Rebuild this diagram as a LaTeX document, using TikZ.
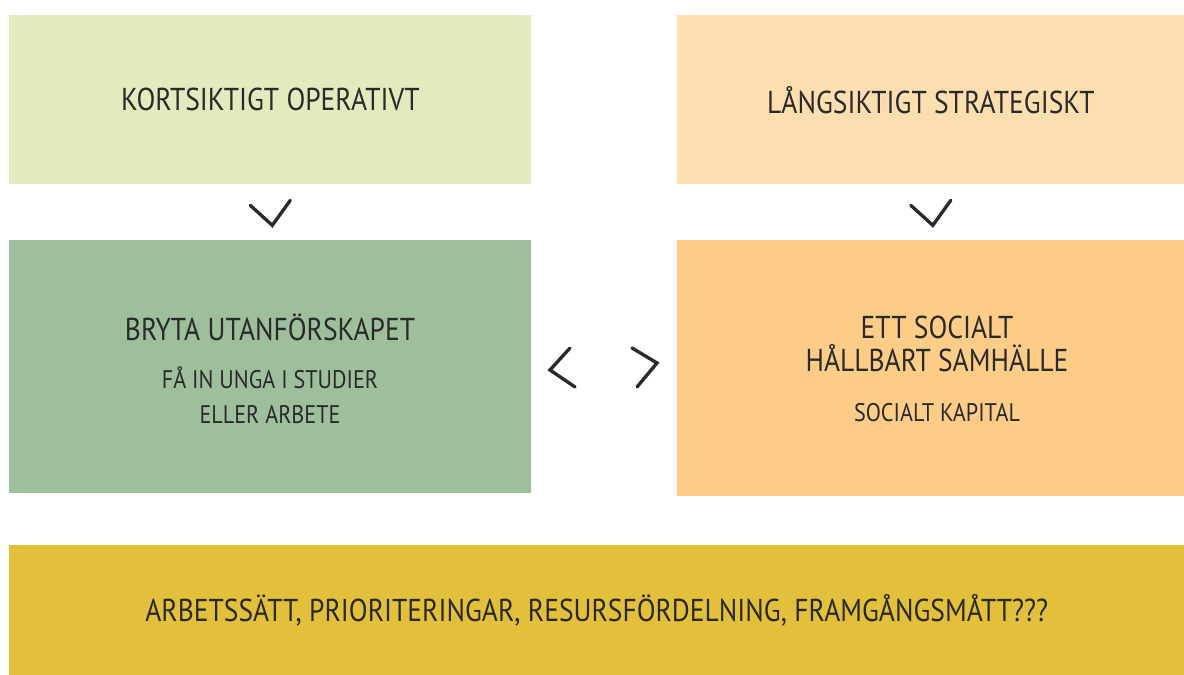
\documentclass[tikz,border=0pt]{standalone}
\usepackage{fontspec}
\setmainfont{PT Sans}[FakeStretch=0.87]
\usetikzlibrary{positioning,calc}

\definecolor{kortgreen}{HTML}{E2EBBD}
\definecolor{langpeach}{HTML}{FDDFAF}
\definecolor{brytgreen}{HTML}{9DBF9B}
\definecolor{samorange}{HTML}{FDCD88}
\definecolor{arbyellow}{HTML}{E3C03C}
\definecolor{inkgray}{HTML}{2A2A2A}

\tikzset{
  box/.style={rectangle, inner sep=0pt, anchor=north west, align=center,
    text=inkgray, font=\fontsize{18}{24}\selectfont},
  chev/.style={draw=inkgray, line width=1.9pt, line cap=round, line join=miter}
}
\newcommand{\subtxt}{\fontsize{14.5}{20}\selectfont}

\begin{document}
\begin{tikzpicture}[x=0.02cm, y=-0.02cm]
\useasboundingbox (0,0) rectangle (1184,675);

% Top row
\node[box, fill=kortgreen, minimum width=10.44cm, minimum height=3.38cm] (kort) at (9,15) {KORTSIKTIGT OPERATIVT};
\node[box, fill=langpeach, minimum width=10.14cm, minimum height=3.38cm] (lang) at (677,15) {LÅNGSIKTIGT STRATEGISKT};

% Middle row
\node[box, fill=brytgreen, minimum width=10.44cm, minimum height=5.06cm] (bryt) at (9,240) {};
\node[box, fill=samorange, minimum width=10.14cm, minimum height=5.12cm] (sam) at (677,240) {};

\node[text=inkgray, font=\fontsize{18}{24}\selectfont] (brytt) at (270,327) {BRYTA UTANFÖRSKAPET};
\node[text=inkgray, align=center, font=\subtxt] (bryts) at (270,395) {FÅ IN UNGA I STUDIER\\ELLER ARBETE};

\node[text=inkgray, align=center, font=\fontsize{18}{19}\selectfont] (samt) at (937,344) {ETT SOCIALT\\HÅLLBART SAMHÄLLE};
\node[text=inkgray, font=\subtxt] (sams) at (937,413) {SOCIALT KAPITAL};

% Bottom bar
\node[box, fill=arbyellow, minimum width=23.5cm, minimum height=2.6cm] (arb) at (9,545) {ARBETSSÄTT, PRIORITERINGAR, RESURSFÖRDELNING, FRAMGÅNGSMÅTT???};

% Chevrons
\coordinate (dk) at ($(kort.south)!0.5!(bryt.north)$);
\coordinate (dl) at ($(lang.south)!0.5!(sam.north)$);
\draw[chev] ([shift={(-20,-7)}]dk) -- ([shift={(2,13)}]dk) -- ([shift={(20,-12)}]dk);
\draw[chev] ([shift={(-20,-7)}]dl) -- ([shift={(2,13)}]dl) -- ([shift={(20,-12)}]dl);
\coordinate (cl) at (563,368);
\coordinate (cr) at (645,368);
\draw[chev] ([shift={(7,-20)}]cl) -- ([shift={(-13,2)}]cl) -- ([shift={(12,19)}]cl);
\draw[chev] ([shift={(-13,-20)}]cr) -- ([shift={(12,-5)}]cr) -- ([shift={(-8,19)}]cr);
\end{tikzpicture}
\end{document}
